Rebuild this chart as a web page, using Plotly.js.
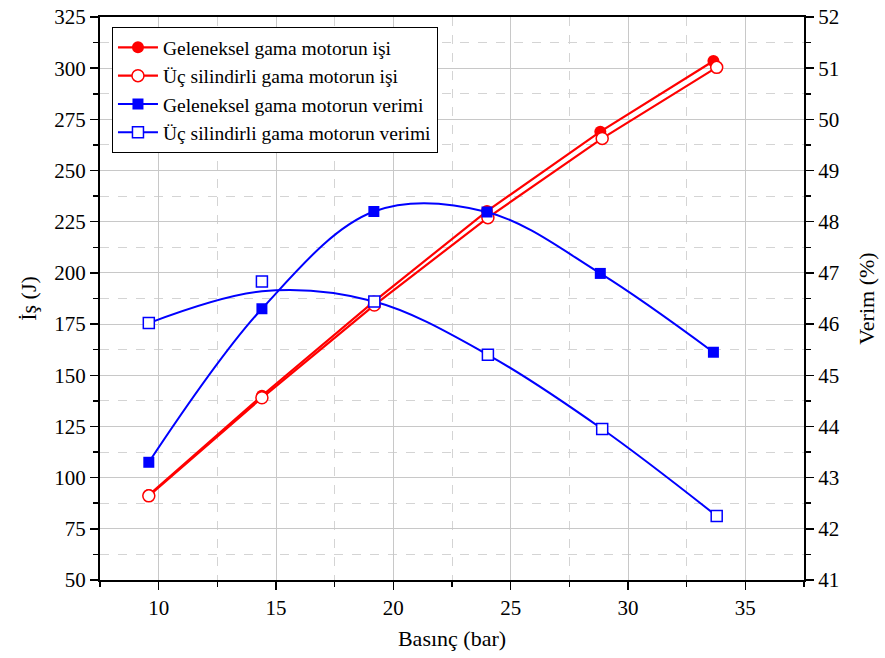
<!DOCTYPE html>
<html><head><meta charset="utf-8">
<script src="https://cdn.plot.ly/plotly-3.0.1.min.js"></script>
<style>body{margin:0;background:#fff}#chart{width:885px;height:658px}</style>
</head><body><div id="chart"></div>
<script>
const seriesNames = ['Geleneksel gama motorun işi', 'Üç silindirli gama motorun işi', 'Geleneksel gama motorun verimi', 'Üç silindirli gama motorun verimi'];
const xGel = [9.58, 14.4, 19.17, 23.99, 28.82, 33.64];
const xUc = [9.58, 14.4, 19.19, 24.03, 28.9, 33.78];
const isGel = [91.5, 140.0, 186.0, 230.2, 269.0, 303.5];
const isUc = [91.1, 139.0, 184.3, 227.0, 265.7, 300.4];
const verimGel = [43.30, 46.30, 48.20, 48.19, 46.99, 45.45];
const verimUc = [46.02, 46.83, 46.44, 45.40, 43.95, 42.25];
// fitted curve of the Üç silindirli verimi series at the same pressures
const verimUcCurve = [46.02, 46.64, 46.44, 45.40, 43.95, 42.25];
const xTitle = 'Basınç (bar)';
const yTitle = 'İş (J)';
const y2Title = 'Verim (%)';

const RED = '#ff0000', BLUE = '#0000ff';
const F = '"Liberation Serif", "Times New Roman", Times, serif';

const traces = [
  {x: xGel, y: isGel, name: seriesNames[0], mode: 'lines+markers', showlegend: false,
   line: {color: RED, width: 2.2}, marker: {symbol: 'circle', size: 12, color: RED}},
  {x: xUc, y: isUc, name: seriesNames[1], mode: 'lines+markers', showlegend: false,
   line: {color: RED, width: 2.2}, marker: {symbol: 'circle', size: 12, color: '#fff', line: {color: RED, width: 1.5}}},
  {x: xGel, y: verimGel, name: seriesNames[2], yaxis: 'y2', mode: 'lines+markers', showlegend: false,
   line: {color: BLUE, width: 2, shape: 'spline'}, marker: {symbol: 'square', size: 11, color: BLUE}},
  {x: xUc, y: verimUcCurve, yaxis: 'y2', mode: 'lines', showlegend: false, hoverinfo: 'skip',
   line: {color: BLUE, width: 2, shape: 'spline'}},
  {x: xUc, y: verimUc, name: seriesNames[3], yaxis: 'y2', mode: 'markers', showlegend: false,
   marker: {symbol: 'square', size: 11, color: '#fff', line: {color: BLUE, width: 1.5}}},
  // legend entries
  {x: [null], y: [null], name: seriesNames[0], mode: 'lines+markers',
   line: {color: RED, width: 2.2}, marker: {symbol: 'circle', size: 12, color: RED}},
  {x: [null], y: [null], name: seriesNames[1], mode: 'lines+markers',
   line: {color: RED, width: 2.2}, marker: {symbol: 'circle', size: 12, color: '#fff', line: {color: RED, width: 1.5}}},
  {x: [null], y: [null], name: seriesNames[2], mode: 'lines+markers',
   line: {color: BLUE, width: 2}, marker: {symbol: 'square', size: 11, color: BLUE}},
  {x: [null], y: [null], name: seriesNames[3], mode: 'lines+markers',
   line: {color: BLUE, width: 2}, marker: {symbol: 'square', size: 11, color: '#fff', line: {color: BLUE, width: 1.5}}}
];

const layout = {
  width: 885, height: 658,
  margin: {l: 100, r: 81, t: 17, b: 78},
  paper_bgcolor: '#fff', plot_bgcolor: '#fff',
  font: {family: F, size: 20, color: '#000'},
  showlegend: true,
  legend: {x: 0.017, y: 0.982, xanchor: 'left', yanchor: 'top', bgcolor: '#fff',
    bordercolor: '#000', borderwidth: 1, font: {family: F, size: 19.5, color: '#000'},
    traceorder: 'normal', itemwidth: 40},
  xaxis: {range: [7.5, 37.5], tickmode: 'linear', tick0: 10, dtick: 5,
    ticks: 'outside', ticklen: 8, tickwidth: 1.5, tickcolor: '#000',
    showline: true, linecolor: '#000', linewidth: 2, mirror: true,
    showgrid: true, gridcolor: '#c8c8c8', gridwidth: 1, zeroline: false,
    minor: {dtick: 2.5, tick0: 7.5, ticks: 'outside', ticklen: 5, tickwidth: 1.5, tickcolor: '#000',
      showgrid: true, gridcolor: '#d4d4d4', griddash: 'dash', gridwidth: 1},
    title: {text: xTitle, font: {family: F, size: 22}, standoff: 11},
    tickfont: {family: F, size: 21}},
  yaxis: {range: [50, 325], tickmode: 'linear', tick0: 50, dtick: 25,
    ticks: 'outside', ticklen: 8, tickwidth: 1.5, tickcolor: '#000',
    showline: true, linecolor: '#000', linewidth: 2,
    showgrid: true, gridcolor: '#c8c8c8', gridwidth: 1, zeroline: false,
    minor: {dtick: 12.5, ticks: 'outside', ticklen: 5, tickwidth: 1.5, tickcolor: '#000',
      showgrid: true, gridcolor: '#d4d4d4', griddash: 'dash', gridwidth: 1},
    title: {text: yTitle, font: {family: F, size: 22}, standoff: 12},
    tickfont: {family: F, size: 21}},
  yaxis2: {range: [41, 52], overlaying: 'y', side: 'right', tickmode: 'linear', tick0: 41, dtick: 1,
    ticks: 'outside', ticklen: 8, tickwidth: 1.5, tickcolor: '#000',
    showline: true, linecolor: '#000', linewidth: 2, showgrid: false, zeroline: false,
    minor: {dtick: 0.5, ticks: 'outside', ticklen: 5, tickwidth: 1.5, tickcolor: '#000', showgrid: false},
    title: {text: y2Title, font: {family: F, size: 22}, standoff: 20},
    tickfont: {family: F, size: 21}}
};

Plotly.newPlot('chart', traces, layout, {displayModeBar: false, staticPlot: true});
</script>
</body></html>
